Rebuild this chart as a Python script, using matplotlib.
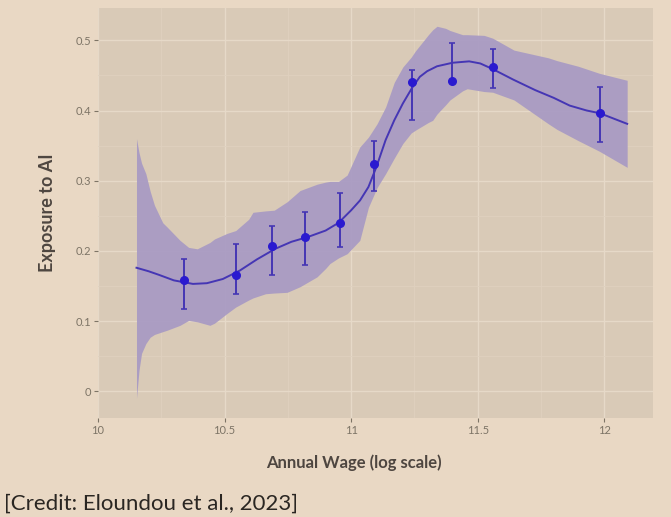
import matplotlib
matplotlib.use("Agg")
import matplotlib.pyplot as plt
from matplotlib.ticker import MultipleLocator, FixedLocator

# ---- data ----
pt_x = [10.341, 10.546, 10.688, 10.818, 10.955, 11.09, 11.241, 11.40, 11.559, 11.983]
pt_y = [0.158, 0.165, 0.207, 0.220, 0.240, 0.324, 0.441, 0.442, 0.462, 0.396]
pt_lo = [0.117, 0.138, 0.165, 0.180, 0.206, 0.286, 0.386, 0.440, 0.432, 0.355]
pt_hi = [0.188, 0.210, 0.235, 0.255, 0.283, 0.356, 0.457, 0.496, 0.487, 0.433]

fit_x = [10.152, 10.20, 10.24, 10.30, 10.375, 10.43, 10.493, 10.56, 10.628, 10.70,
         10.764, 10.83, 10.899, 10.95, 11.0, 11.035, 11.068, 11.10, 11.136, 11.17,
         11.204, 11.24, 11.271, 11.30, 11.339, 11.40, 11.466, 11.51, 11.559, 11.64,
         11.727, 11.80, 11.863, 11.93, 11.983, 12.04, 12.09]
fit_y = [0.176, 0.171, 0.166, 0.158, 0.153, 0.154, 0.160, 0.172, 0.188, 0.203,
         0.213, 0.220, 0.229, 0.240, 0.258, 0.272, 0.291, 0.320, 0.358, 0.386,
         0.410, 0.432, 0.448, 0.456, 0.463, 0.468, 0.470, 0.467, 0.459, 0.444,
         0.429, 0.418, 0.407, 0.400, 0.396, 0.388, 0.381]

band_x = [10.152, 10.162, 10.172, 10.189, 10.206, 10.223, 10.256, 10.273, 10.324, 10.358,
          10.392, 10.442, 10.46, 10.51, 10.544, 10.595, 10.612, 10.662, 10.696, 10.747,
          10.798, 10.865, 10.899, 10.916, 10.95, 10.984, 11.034, 11.068, 11.102, 11.136,
          11.17, 11.204, 11.237, 11.254, 11.305, 11.322, 11.339, 11.373, 11.39, 11.44,
          11.458, 11.525, 11.559, 11.643, 11.779, 11.813, 11.897, 11.98, 12.09]
band_hi = [0.360, 0.340, 0.325, 0.310, 0.285, 0.265, 0.240, 0.234, 0.215, 0.205,
           0.203, 0.212, 0.217, 0.225, 0.229, 0.245, 0.255, 0.257, 0.258, 0.270,
           0.286, 0.295, 0.298, 0.299, 0.299, 0.308, 0.348, 0.362, 0.381, 0.405,
           0.440, 0.462, 0.476, 0.485, 0.508, 0.515, 0.520, 0.517, 0.514, 0.508,
           0.508, 0.507, 0.503, 0.486, 0.475, 0.471, 0.463, 0.453, 0.443]
band_lo = [-0.010, 0.030, 0.054, 0.068, 0.077, 0.081, 0.085, 0.087, 0.094, 0.101,
           0.099, 0.094, 0.097, 0.111, 0.120, 0.130, 0.133, 0.139, 0.140, 0.141,
           0.149, 0.163, 0.175, 0.182, 0.190, 0.196, 0.215, 0.262, 0.290, 0.310,
           0.332, 0.353, 0.368, 0.372, 0.383, 0.386, 0.395, 0.408, 0.415, 0.428,
           0.431, 0.427, 0.426, 0.415, 0.381, 0.373, 0.357, 0.342, 0.319]

x_ticks = [10, 10.5, 11, 11.5, 12]
x_tick_labels = ["10", "10.5", "11", "11.5", "12"]
y_ticks = [0, 0.1, 0.2, 0.3, 0.4, 0.5]
y_tick_labels = ["0", "0.1", "0.2", "0.3", "0.4", "0.5"]

# ---- styling ----
fig_bg = "#e9d8c4"
panel_bg = "#d9cab7"
grid_major = "#e6d9c8"
grid_minor = "#dfd1bf"
ribbon_col = "#a99bc3"
line_col = "#4536b4"
pt_col = "#2a1ad0"
tick_col = "#7d7466"
title_col = "#4e4640"

plt.rcParams['font.family'] = ['Lato', 'DejaVu Sans']

fig = plt.figure(figsize=(6.71, 5.17), dpi=100, facecolor=fig_bg)
ax = fig.add_axes([98/671, 1-418/517, (652.5-98)/671, (418-8)/517])
ax.set_facecolor(panel_bg)

ax.set_xlim(10.0, 12.19)
ax.set_ylim(-0.038, 0.546)

ax.xaxis.set_major_locator(FixedLocator(x_ticks))
ax.set_xticklabels(x_tick_labels)
ax.yaxis.set_major_locator(FixedLocator(y_ticks))
ax.set_yticklabels(y_tick_labels)
ax.xaxis.set_minor_locator(MultipleLocator(0.25))
ax.yaxis.set_minor_locator(MultipleLocator(0.05))

ax.grid(True, which='major', color=grid_major, linewidth=1.0, zorder=0)
ax.grid(True, which='minor', color=grid_minor, linewidth=0.6, zorder=0)
ax.set_axisbelow(True)
for s in ax.spines.values():
    s.set_visible(False)

ax.tick_params(axis='both', which='major', length=3, width=0.8, color=tick_col,
               labelcolor=tick_col, labelsize=8, pad=2)
ax.tick_params(axis='both', which='minor', length=0)

ax.fill_between(band_x, band_lo, band_hi, color=ribbon_col, alpha=0.95, linewidth=0, zorder=2)
ax.plot(fit_x, fit_y, color=line_col, linewidth=1.4, zorder=3)
yerr = [[y - lo for y, lo in zip(pt_y, pt_lo)], [hi - y for y, hi in zip(pt_y, pt_hi)]]
ax.errorbar(pt_x, pt_y, yerr=yerr, fmt='o', color=pt_col, ecolor=line_col,
            markersize=5.5, elinewidth=1.4, capsize=2, capthick=1.2, zorder=4)

ax.set_xlabel("Annual Wage (log scale)", fontsize=12, color=title_col, fontweight='bold')
ax.xaxis.set_label_coords((354-98)/(652.5-98), -(463-418)/410)
ax.set_ylabel("Exposure to AI", fontsize=13, color=title_col, fontweight='bold')
ax.yaxis.set_label_coords(-(98-47)/(652.5-98), 0.5)
ax.xaxis.label.set_verticalalignment('center')
ax.yaxis.label.set_verticalalignment('center')

fig.text(4/671, 3/517, "[Credit: Eloundou et al., 2023]", fontsize=16,
         color="#2a2622", ha='left', va='bottom')

fig.savefig("out.png", dpi=100, facecolor=fig_bg)
